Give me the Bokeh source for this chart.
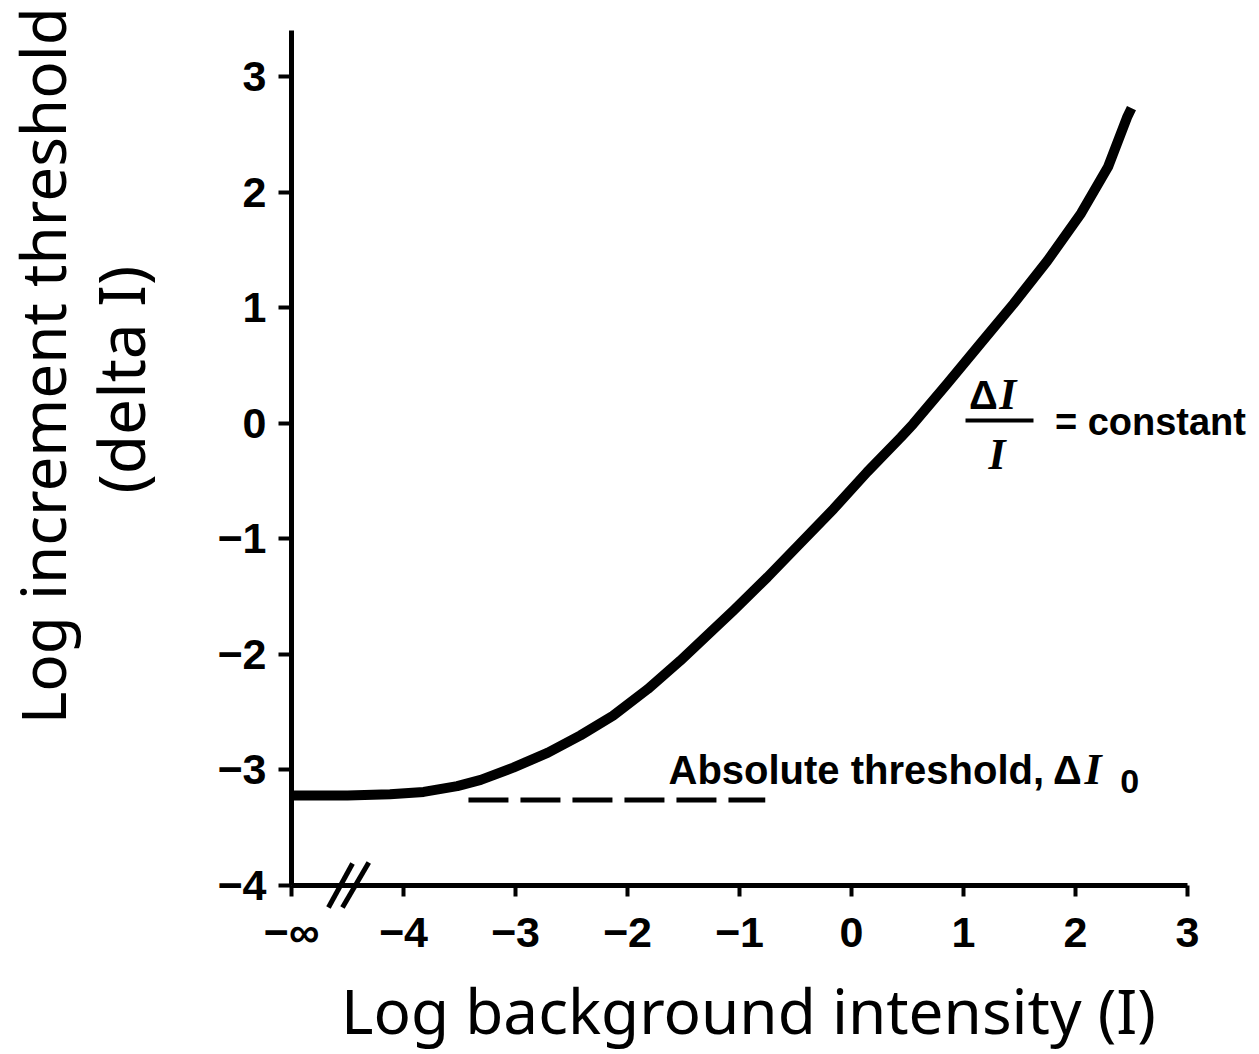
from math import pi
from bokeh.plotting import figure
from bokeh.models import Range1d, FixedTicker, Label
from bokeh.embed import file_html
from bokeh.resources import INLINE

# ---- data ----
bg_log = [-5.0, -4.5, -4.12, -3.82, -3.52, -3.31, -3.02, -2.71, -2.42, -2.13,
          -1.82, -1.53, -1.23, -1.05, -0.75, -0.46, -0.16, 0.14, 0.44, 0.55,
          0.86, 1.15, 1.45, 1.75, 2.05, 2.29, 2.46, 2.50]
thr_log = [-3.22, -3.22, -3.21, -3.19, -3.14, -3.085, -2.98, -2.85, -2.70, -2.53,
           -2.30, -2.055, -1.78, -1.615, -1.33, -1.04, -0.74, -0.42, -0.12, -0.005,
           0.35, 0.69, 1.04, 1.41, 1.82, 2.22, 2.65, 2.73]
abs_thr_x = [-3.42, -0.77]
abs_thr_y = [-3.26, -3.26]

x_ticks = [-5, -4, -3, -2, -1, 0, 1, 2, 3]
x_tick_labels = ["\u2212\u221e", "\u22124", "\u22123", "\u22122", "\u22121", "0", "1", "2", "3"]
y_ticks = [-4, -3, -2, -1, 0, 1, 2, 3]
y_tick_labels = ["\u22124", "\u22123", "\u22122", "\u22121", "0", "1", "2", "3"]

x_title = "Log background intensity (I)"
y_title_1 = "Log increment threshold"
y_title_2 = "(delta I)"

# ---- figure: frame spans the whole canvas, axes sit at fixed data locations ----
p = figure(width=1259, height=1054,
           x_range=Range1d(-7.5982, 3.6429), y_range=Range1d(-5.4632, 3.6623),
           output_backend="svg", toolbar_location=None,
           min_border=0, min_border_left=0, min_border_right=0,
           min_border_top=0, min_border_bottom=0)
p.grid.visible = False
p.outline_line_color = None
p.background_fill_color = "white"
p.border_fill_color = "white"

xa = p.xaxis[0]
ya = p.yaxis[0]
xa.fixed_location = -4
ya.fixed_location = -5
xa.bounds = (-5, 3)
ya.bounds = (-4, 3.40)
xa.ticker = FixedTicker(ticks=x_ticks)
ya.ticker = FixedTicker(ticks=y_ticks)
xa.major_label_overrides = {t: s for t, s in zip(x_ticks, x_tick_labels)}
ya.major_label_overrides = {t: s for t, s in zip(y_ticks, y_tick_labels)}
for ax in (xa, ya):
    ax.axis_line_width = 5
    ax.axis_line_color = "black"
    ax.major_tick_line_width = 4
    ax.major_tick_line_color = "black"
    ax.major_tick_in = 0
    ax.minor_tick_line_color = None
    ax.major_label_text_font = "Liberation Sans"
    ax.major_label_text_font_style = "bold"
    ax.major_label_text_font_size = "43px"
    ax.major_label_text_color = "black"
xa.major_tick_out = 11
xa.major_label_standoff = 12
ya.major_tick_out = 13
ya.major_label_standoff = 12

# curve
p.line(bg_log, thr_log, line_width=10, line_color="black", line_join="round")
# absolute threshold dashed line
p.line(abs_thr_x, abs_thr_y, line_width=5, line_color="black", line_dash="40 12")

# axis break marks
p.segment(x0=[-4.67, -4.545], y0=[-4.19, -4.19], x1=[-4.455, -4.31], y1=[-3.81, -3.80],
          line_width=5, line_color="black")

# axis titles
p.add_layout(Label(x=-0.92, y=-5.074, text=x_title, text_align="center",
                   text_baseline="alphabetic", text_font="Noto Sans",
                   text_font_size="62px", text_color="black"))
p.add_layout(Label(x=-7.224, y=0.50, text=y_title_1, angle=pi / 2,
                   text_align="center", text_baseline="alphabetic",
                   text_font="Noto Sans", text_font_size="62px", text_color="black"))
p.add_layout(Label(x=-6.527, y=0.38, text=y_title_2, angle=pi / 2,
                   text_align="center", text_baseline="alphabetic",
                   text_font="Noto Sans", text_font_size="64px", text_color="black"))

# annotation: Absolute threshold, ΔI0
p.add_layout(Label(x=-1.634, y=-3.0, text="Absolute threshold,", text_font="Liberation Sans",
                   text_font_style="bold", text_font_size="40px", text_baseline="alphabetic",
                   text_color="black"))
p.add_layout(Label(x=1.80, y=-3.0, text="\u0394", text_font="Liberation Sans",
                   text_font_style="bold", text_font_size="40px", text_baseline="alphabetic",
                   text_color="black"))
p.add_layout(Label(x=2.08, y=-3.0, text="I", text_font="Liberation Serif",
                   text_font_style="bold italic", text_font_size="44px", text_baseline="alphabetic",
                   text_color="black"))
p.add_layout(Label(x=2.40, y=-3.10, text="0", text_font="Liberation Sans",
                   text_font_style="bold", text_font_size="34px", text_baseline="alphabetic",
                   text_color="black"))

# annotation: ΔI / I = constant
p.add_layout(Label(x=1.05, y=0.25, text="\u0394", text_font="Liberation Sans",
                   text_font_style="bold", text_font_size="40px", text_baseline="alphabetic",
                   text_color="black"))
p.add_layout(Label(x=1.32, y=0.25, text="I", text_font="Liberation Serif",
                   text_font_style="bold italic", text_font_size="44px", text_baseline="alphabetic",
                   text_color="black"))
p.segment(x0=[1.018], y0=[0.026], x1=[1.625], y1=[0.026], line_width=4, line_color="black")
p.add_layout(Label(x=1.30, y=-0.27, text="I", text_align="center", text_font="Liberation Serif",
                   text_font_style="bold italic", text_font_size="44px", text_baseline="alphabetic",
                   text_color="black"))
p.add_layout(Label(x=1.816, y=0.012, text="= constant", text_font="Liberation Sans",
                   text_font_style="bold", text_font_size="38px", text_baseline="alphabetic",
                   text_color="black"))

open("out.html", "w").write(file_html(p, INLINE))
